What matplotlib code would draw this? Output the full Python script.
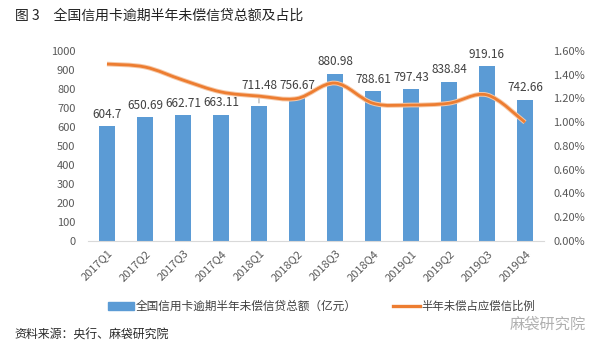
import matplotlib.pyplot as plt
import numpy as np
from matplotlib.path import Path
from matplotlib.patches import PathPatch
from matplotlib.ticker import PercentFormatter

plt.rcParams['font.family'] = ['Noto Sans CJK SC', 'DejaVu Sans']

quarters = ['2017Q1', '2017Q2', '2017Q3', '2017Q4', '2018Q1', '2018Q2',
            '2018Q3', '2018Q4', '2019Q1', '2019Q2', '2019Q3', '2019Q4']
overdue = [604.7, 650.69, 662.71, 663.11, 711.48, 756.67,
           880.98, 788.61, 797.43, 838.84, 919.16, 742.66]
ratio = [1.49, 1.465, 1.355, 1.255, 1.22, 1.20,
         1.33, 1.16, 1.145, 1.16, 1.23, 1.00]

bar_color = '#5B9BD5'
line_color = '#ED7D31'
tick_color = '#595959'

fig = plt.figure(figsize=(6.08, 3.49), dpi=100)
ax = fig.add_axes([0.1447, 0.3095, 0.75, 0.5444])
ax2 = ax.twinx()

x = np.arange(len(quarters))
ax.bar(x, overdue, width=0.42, color=bar_color, zorder=2)
for xi, v in zip(x, overdue):
    lift = 10 if quarters[xi] == '2018Q1' else 4
    ax.annotate(f'{v:g}', (xi, v), xytext=(0, lift), textcoords='offset points',
                ha='center', va='bottom', fontsize=8.5, color='#404040')
    if lift > 4:
        ax.annotate('', (xi, v), xytext=(0, lift), textcoords='offset points',
                    arrowprops=dict(arrowstyle='-', color='#8C8C8C', lw=0.6))

# smooth curve through the ratio points (cubic bezier, catmull-rom style)
pts = np.column_stack([x, ratio])
verts = [pts[0]]
codes = [Path.MOVETO]
for i in range(len(pts) - 1):
    p0 = pts[i - 1] if i > 0 else pts[i]
    p1, p2 = pts[i], pts[i + 1]
    p3 = pts[i + 2] if i + 2 < len(pts) else pts[i + 1]
    c1 = p1 + (p2 - p0) / 6
    c2 = p2 - (p3 - p1) / 6
    verts += [c1, c2, p2]
    codes += [Path.CURVE4] * 3
curve = Path(verts, codes)
ax2.add_patch(PathPatch(curve, fill=False, edgecolor='#F6C9A8', lw=3.4, zorder=3))
ax2.add_patch(PathPatch(curve, fill=False, edgecolor=line_color, lw=2.0, zorder=4))

ax.set_xlim(-0.5, len(quarters) - 0.5)
ax.set_ylim(0, 1000)
ax.set_yticks(range(0, 1001, 100))
ax2.set_ylim(0, 1.6)
ax2.set_yticks(np.arange(0, 1.61, 0.2))
ax2.yaxis.set_major_formatter(PercentFormatter(decimals=2))

ax.set_xticks(x)
ax.set_xticklabels(quarters, rotation=45, ha='right', rotation_mode='anchor')

for a in (ax, ax2):
    for s in a.spines.values():
        s.set_visible(False)
    a.tick_params(length=0, labelsize=8, colors=tick_color)
ax.spines['bottom'].set_visible(True)
ax.spines['bottom'].set_color('#D9D9D9')
ax.tick_params(axis='y', pad=9)
ax.tick_params(axis='x', pad=5)
ax2.tick_params(axis='y', pad=6.5)

fig.text(0.025, 0.955, '图 3　全国信用卡逾期半年未偿信贷总额及占比', fontsize=10, color='#222222', va='center')

# legend
fig.patches.append(plt.Rectangle((0.178, 0.112), 0.042, 0.022, color=bar_color, transform=fig.transFigure))
fig.text(0.223, 0.123, '全国信用卡逾期半年未偿信贷总额（亿元）', fontsize=8.4, color='#404040', va='center')
fig.lines.append(plt.Line2D([0.646, 0.691], [0.123, 0.123], color=line_color, lw=2.4, transform=fig.transFigure))
fig.text(0.693, 0.123, '半年未偿占应偿信比例', fontsize=8.2, color='#404040', va='center')

fig.text(0.838, 0.072, '麻袋研究院', fontsize=11, color='#B0B0B0', va='center')
fig.text(0.024, 0.04, '资料来源：央行、麻袋研究院', fontsize=8.6, color='#2A2A2A', va='center')

fig.savefig('out.png', dpi=100)
